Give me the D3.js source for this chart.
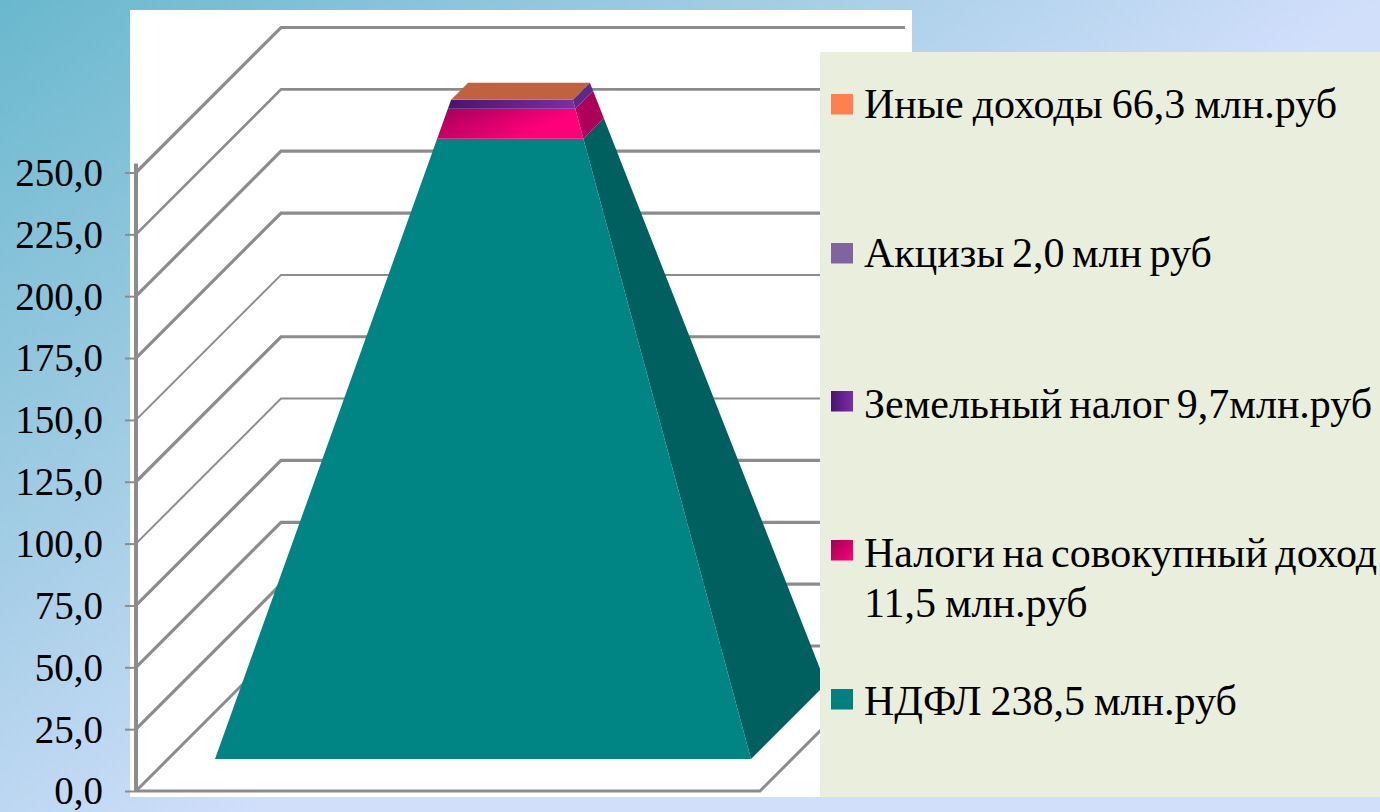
<!DOCTYPE html>
<html>
<head>
<meta charset="utf-8">
<script src="https://cdn.jsdelivr.net/npm/d3@7"></script>
<style>
html, body { margin: 0; padding: 0; overflow: hidden; }
svg { display: block; }
text { font-family: "Liberation Serif", serif; fill: #000; }
</style>
</head>
<body>
<svg id="chart" width="1380" height="812"></svg>
<script>
// stack order, bottom to top
const series = ["НДФЛ", "Налоги на совокупный доход", "Земельный налог", "Акцизы", "Иные доходы"];
const values = [238.5, 11.5, 9.7, 2.0, 66.3];
const legendLabels = [
    ["Иные доходы 66,3 млн.руб"],
    ["Акцизы 2,0 млн руб"],
    ["Земельный налог 9,7млн.руб"],
    ["Налоги на совокупный доход", "11,5 млн.руб"],
    ["НДФЛ 238,5 млн.руб"]
];
const axisTicks = [0, 25, 50, 75, 100, 125, 150, 175, 200, 225, 250];
// the value where the chart cuts the pyramid off
const clipValue = 253.5;

const W = 1380, H = 812;
const svg = d3.select("#chart");
const defs = svg.append("defs");

function addGrad(id, from, to, x1, y1, x2, y2) {
    const g = defs.append("linearGradient").attr("id", id)
        .attr("gradientUnits", "userSpaceOnUse")
        .attr("x1", x1).attr("y1", y1).attr("x2", x2).attr("y2", y2);
    g.append("stop").attr("offset", 0).attr("stop-color", from);
    g.append("stop").attr("offset", 1).attr("stop-color", to);
    return g;
}

// Background
const bg = addGrad("bg", "#69b8cd", "#d2dffb", 0, 0, 480, 660);
bg.insert("stop", "stop:last-child").attr("offset", 0.55).attr("stop-color", "#a3cde5");
svg.append("rect").attr("width", W).attr("height", H).attr("fill", "url(#bg)");

// Plot area
svg.append("rect").attr("x", 130).attr("y", 10).attr("width", 782).attr("height", 787).attr("fill", "#fff");

const y = d3.scaleLinear().domain([0, 250]).range([791, 172.5]);
const x0 = 136, xFront = 760, depth = 145, xBack = 905;
const GRID = "#8c8c8c";

// Walls, grid
const grid = svg.append("g").attr("fill", "none").attr("stroke", GRID);
axisTicks.forEach((v, i) => {
    const sw = [3, 3.2, 3.2, 3.2, 2, 3.2, 2, 3.2, 3.2, 2.6, 3.2][i];
    grid.append("path")
        .attr("stroke-width", sw)
        .attr("d", `M${x0},${y(v)}L${x0 + depth},${y(v) - depth}L${xBack},${y(v) - depth}`);
});
grid.append("path").attr("stroke-width", 3)
    .attr("d", `M${x0},${y(0)}L${xFront},${y(0)}L${xFront + depth},${y(0) - depth}`);

// Pyramid: each visible corner runs from the base to the apex as the stack grows
const total = d3.sum(values);
const frontLeftX = d3.scaleLinear().domain([0, total]).range([215, 520.5]);
const frontRightX = d3.scaleLinear().domain([0, total]).range([751, 520.5]);
const frontY = d3.scaleLinear().domain([0, total]).range([759, -94]);
const backRightX = d3.scaleLinear().domain([0, total]).range([826, 520.5]);
const backRightY = d3.scaleLinear().domain([0, total]).range([684, -94]);
const backLeftX = d3.scaleLinear().domain([0, total]).range([290, 520.5]);

addGrad("pinkFront", "#a00058", "#ff0078", 480, 85, 510, 145);
addGrad("purpleFront", "#4a1470", "#7a2fa8", 450, 0, 575, 0);
addGrad("pinkSwatch", "#a00058", "#ff0078", 831, 540, 853, 560);
addGrad("purpleSwatch", "#4a1470", "#7a2fa8", 831, 0, 853, 0);

const frontFill = ["#008484", "url(#pinkFront)", "url(#purpleFront)", "#8064a2", "#ff7f50"];
const sideFill = ["#005f5f", "#ad0058", "#5a2a8a", "#5f4a7a", "#c1623f"];
const topFill = "#c1623f";

const layers = [];
let base = 0;
values.forEach((v, i) => {
    const from = base, to = Math.min(base + v, clipValue);
    base += v;
    if (to > from) layers.push({ from, to, i });
});

const pyramid = svg.append("g");
pyramid.selectAll(".side").data(layers).enter().append("path")
    .attr("class", "side")
    .attr("fill", d => sideFill[d.i])
    .attr("d", d => `M${frontRightX(d.from)},${frontY(d.from)}L${backRightX(d.from)},${backRightY(d.from)}` +
        `L${backRightX(d.to)},${backRightY(d.to)}L${frontRightX(d.to)},${frontY(d.to)}Z`);
pyramid.selectAll(".front").data(layers).enter().append("path")
    .attr("class", "front")
    .attr("fill", d => frontFill[d.i])
    .attr("d", d => `M${frontLeftX(d.from)},${frontY(d.from)}L${frontRightX(d.from)},${frontY(d.from)}` +
        `L${frontRightX(d.to)},${frontY(d.to)}L${frontLeftX(d.to)},${frontY(d.to)}Z`);
// Cut surface on top
pyramid.append("path").attr("fill", topFill)
    .attr("d", `M${frontLeftX(clipValue)},${frontY(clipValue)}L${frontRightX(clipValue)},${frontY(clipValue)}` +
        `L${backRightX(clipValue)},${backRightY(clipValue)}L${backLeftX(clipValue)},${backRightY(clipValue)}Z`);

// Axis
const axis = svg.append("g").attr("transform", `translate(${x0},0)`)
    .call(d3.axisLeft(y).tickValues(axisTicks).tickSize(11).tickPadding(22)
        .tickFormat(d => d3.format(".1f")(d).replace(".", ",")));
axis.select(".domain").attr("stroke", GRID).attr("stroke-width", 4).attr("d", `M0,${y(250) - 9}V${y(0) + 1}`);
axis.selectAll("line").attr("stroke", GRID).attr("stroke-width", 2);
axis.selectAll("text").attr("font-size", 39).attr("dy", "0.33em")
    .attr("font-family", '"Liberation Serif", serif').attr("fill", "#000");

// Legend panel
svg.append("rect").attr("x", 820).attr("y", 52).attr("width", 560).attr("height", 745).attr("fill", "#eaeedd");

const swatchColors = ["#ff7f50", "#8064a2", "url(#purpleSwatch)", "url(#pinkSwatch)", "#008080"];
const swatchY = [94, 243, 391, 540, 689];
const legendTextY = [118, 267, 418, 567, 715];
const legendWordSpacing = [[-1.5], [-3], [-3.5], [-3, -1.5], [-1.5]];
const legend = svg.append("g");
legendLabels.forEach((lines, i) => {
    legend.append("rect").attr("x", 831).attr("y", swatchY[i]).attr("width", 22).attr("height", 20.5)
        .attr("fill", swatchColors[i]);
    lines.forEach((line, j) => {
        legend.append("text")
            .attr("x", 864).attr("y", legendTextY[i] + j * 50)
            .attr("font-size", 42)
            .attr("word-spacing", legendWordSpacing[i][j])
            .text(line);
    });
});
</script>
</body>
</html>
